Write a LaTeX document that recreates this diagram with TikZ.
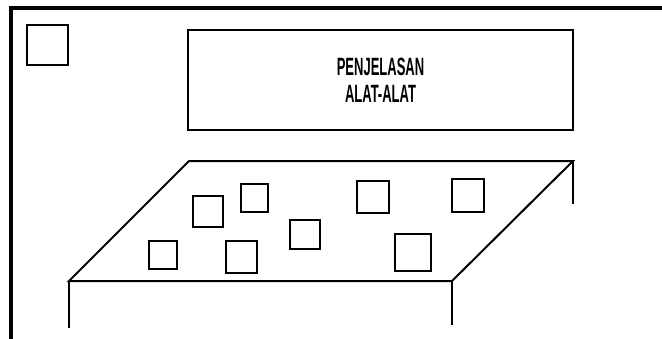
\documentclass[tikz,border=0pt]{standalone}
\usepackage{fontspec}
\newfontfamily\condfont[FakeStretch=0.52]{Liberation Sans}
\begin{document}
\begin{tikzpicture}[x=1pt,y=-1pt,
  box/.style={draw,line width=2pt,inner sep=0pt},
  tbl/.style={line width=2pt},
  title/.style={draw,line width=2.5pt,minimum width=385pt,minimum height=100pt,align=center,
    font=\condfont\bfseries\fontsize{25}{27}\selectfont}]
\useasboundingbox (0,0) rectangle (662,338);
\fill[white] (0,0) rectangle (662,338);
% frame
\coordinate (fbl) at (11.3,340);
\coordinate (ftl) at (11.3,8.3);
\coordinate (ftr) at (664,8.3);
\draw[line width=4pt,line join=miter] (fbl) -- (ftl) -- (ftr);
% corner square
\node[box,minimum width=41pt,minimum height=40pt] (corner) at (47.5,45) {};
% title box
\node[title] (t) at (380.5,80) {PENJELASAN\\ALAT-ALAT};
% table
\coordinate (tl) at (189,161);
\coordinate (tr) at (573,161);
\coordinate (fr) at (452,281);
\coordinate (fl) at (69,281);
\coordinate (legR) at (573,204);
\coordinate (legL) at (69,328);
\coordinate (legM) at (452,325);
\draw[tbl,line join=miter] (fl) -- (tl) -- (tr) -- (fr) -- cycle;
\draw[tbl] (tr) -- (legR);
\draw[tbl] (fl) -- (legL);
\draw[tbl] (fr) -- (legM);
% items
\node[box,minimum width=30pt,minimum height=31pt] (s1) at (208,211.5) {};
\node[box,minimum width=27pt,minimum height=28pt] (s2) at (254.5,198) {};
\node[box,minimum width=30pt,minimum height=29pt] (s3) at (305,234.5) {};
\node[box,minimum width=28pt,minimum height=28pt] (s4) at (163,255) {};
\node[box,minimum width=31pt,minimum height=32pt] (s5) at (241.5,257) {};
\node[box,minimum width=32pt,minimum height=32pt] (s6) at (373,197) {};
\node[box,minimum width=32pt,minimum height=33pt] (s7) at (468,195.5) {};
\node[box,minimum width=36pt,minimum height=37pt] (s8) at (413,252.5) {};
\end{tikzpicture}
\end{document}
